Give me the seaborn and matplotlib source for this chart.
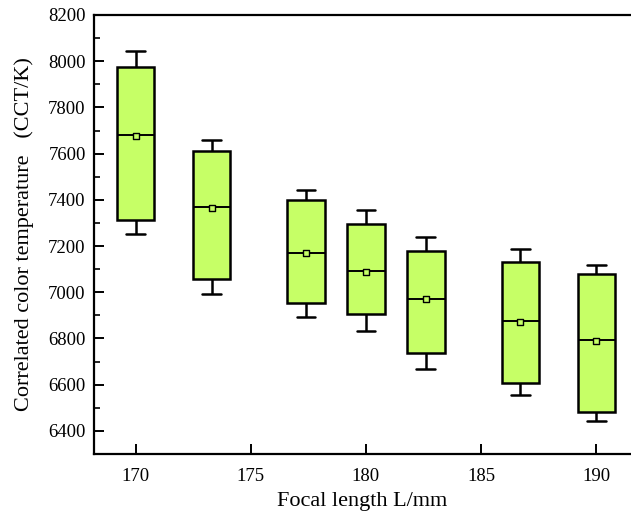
import matplotlib
matplotlib.use("Agg")
import matplotlib.pyplot as plt
import seaborn as sns
import pandas as pd
import numpy as np
from matplotlib.ticker import MultipleLocator

# Focal length positions (mm)
focal = [170, 173.3, 177.4, 180, 182.6, 186.7, 190]
# Five-number summaries
whisker_low = [7251, 6993, 6893, 6833, 6667, 6554, 6445]
q1 = [7313, 7058, 6955, 6908, 6736, 6608, 6484]
median = [7680, 7371, 7170, 7091, 6972, 6876, 6793]
q3 = [7977, 7613, 7400, 7296, 7180, 7132, 7080]
whisker_high = [8046, 7659, 7444, 7358, 7239, 7187, 7118]
means = [7677, 7366, 7168, 7088, 6971, 6872, 6788]

rows = []
for i, f in enumerate(focal):
    for v in (whisker_low[i], q1[i], median[i], q3[i], whisker_high[i]):
        rows.append({"focal": f, "cct": v})
df = pd.DataFrame(rows)
df_mean = pd.DataFrame({"focal": focal, "cct": means})

sns.set_theme(style="ticks")
plt.rcParams["font.family"] = ["Liberation Serif", "DejaVu Serif"]
plt.rcParams["text.color"] = "black"
plt.rcParams["axes.labelcolor"] = "black"

fill = "#C6FF66"
fig = plt.figure(figsize=(6.31, 5.15), dpi=100)
ax = fig.add_axes([0.149, 0.1184, 0.851, 0.8525])

sns.boxplot(data=df, x="focal", y="cct", native_scale=True, whis=(0, 100),
            width=0.63, color=fill, linecolor="black", linewidth=1.8,
            saturation=1, showfliers=False,
            medianprops={"color": "black", "linewidth": 1.4}, ax=ax)
sns.scatterplot(data=df_mean, x="focal", y="cct", marker="s", s=22,
                color=fill, edgecolor="black", linewidth=1.0, zorder=5,
                legend=False, ax=ax)

ax.set_xlim(168.2, 191.5)
ax.set_ylim(6300, 8200)
ax.set_xticks([170, 175, 180, 185, 190])
ax.yaxis.set_major_locator(MultipleLocator(200))
ax.yaxis.set_minor_locator(MultipleLocator(100))
ax.tick_params(axis="both", which="major", direction="in", length=7, width=1.4,
               labelsize=13.5, colors="black", labelcolor="black")
ax.tick_params(axis="y", which="minor", direction="in", length=4, width=1.2,
               colors="black")
ax.tick_params(axis="x", pad=10)
ax.tick_params(axis="y", pad=6)
ax.spines["right"].set_visible(False)
for s in ("left", "bottom", "top"):
    ax.spines[s].set_linewidth(1.6)
    ax.spines[s].set_color("black")

ax.set_xlabel("Focal length L/mm", fontsize=16, labelpad=5)
ax.set_ylabel("Correlated color temperature   (CCT/K)", fontsize=16, labelpad=10)

fig.savefig("out.png", dpi=100)
